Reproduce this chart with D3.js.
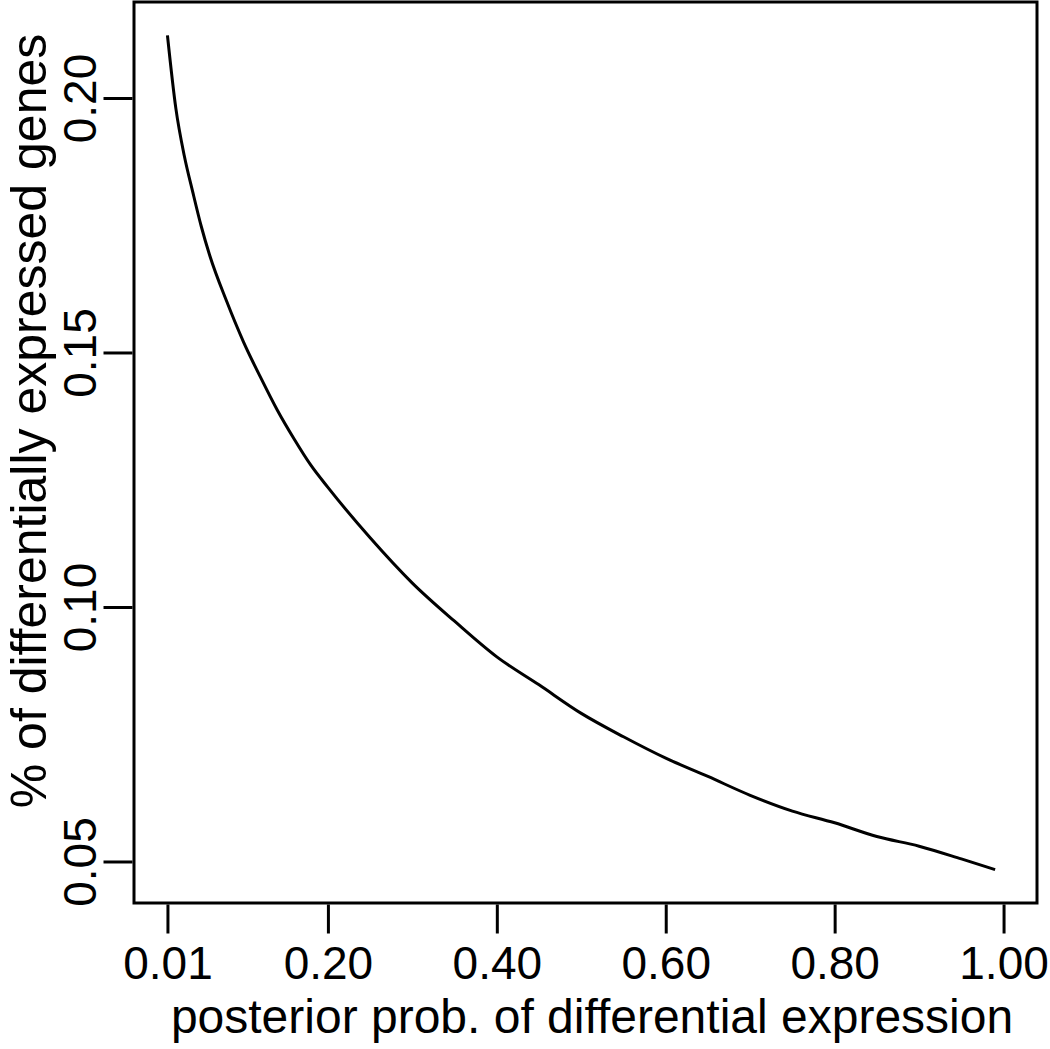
<!DOCTYPE html>
<html>
<head>
<meta charset="utf-8">
<script src="https://cdn.jsdelivr.net/npm/d3@7"></script>
<style>
  body { margin: 0; background: #fff; }
  text { font-family: "Liberation Sans", Arial, Helvetica, sans-serif; fill: #000; }
</style>
</head>
<body>
<svg id="chart" width="1050" height="1049"></svg>
<script>
// posterior probability cutoff
var probs = [0.01, 0.02, 0.03, 0.04, 0.05, 0.06, 0.08, 0.10, 0.12, 0.14, 0.16, 0.18, 0.20,
             0.25, 0.30, 0.35, 0.40, 0.45, 0.50, 0.55, 0.60, 0.65, 0.70, 0.75, 0.80,
             0.85, 0.90, 0.95, 0.99];
// % of differentially expressed genes
var pctDE = [0.2123, 0.1979, 0.1886, 0.1815, 0.1748, 0.1691, 0.1601, 0.1521, 0.1452, 0.1387, 0.1330, 0.1278, 0.1235,
             0.1136, 0.1047, 0.0972, 0.0902, 0.0847, 0.0791, 0.0745, 0.0703, 0.0667, 0.0630, 0.0599, 0.0576,
             0.0549, 0.0530, 0.0505, 0.0484];

var xTicks = [0.01, 0.20, 0.40, 0.60, 0.80, 1.00];
var yTicks = [0.05, 0.10, 0.15, 0.20];

var svg = d3.select("#chart");
var plotLeft = 134, plotRight = 1037, plotTop = 2, plotBottom = 903;

// R style 4% padding on both ends
var xMin = 0.01, xMax = 1.00;
var xPad = (xMax - xMin) * 0.04;
var x = d3.scaleLinear().domain([xMin - xPad, xMax + xPad]).range([plotLeft, plotRight]);

var yMin = d3.min(pctDE), yMax = d3.max(pctDE);
var yPad = (yMax - yMin) * 0.04;
var y = d3.scaleLinear().domain([yMin - yPad, yMax + yPad]).range([plotBottom, plotTop]);

// box
svg.append("rect")
    .attr("x", plotLeft).attr("y", plotTop)
    .attr("width", plotRight - plotLeft).attr("height", plotBottom - plotTop)
    .attr("fill", "none").attr("stroke", "#000").attr("stroke-width", 3);

// x axis
var xAxis = svg.append("g")
    .attr("transform", "translate(0," + (plotBottom + 1.5) + ")")
    .call(d3.axisBottom(x).tickValues(xTicks).tickSize(29).tickSizeOuter(0).tickFormat(d3.format(".2f")));
xAxis.select(".domain").remove();
xAxis.selectAll(".tick line").attr("stroke", "#000").attr("stroke-width", 3);
xAxis.selectAll(".tick text")
    .attr("y", 74).attr("dy", 0)
    .attr("font-size", "46px")
    .attr("font-family", "Liberation Sans, Arial, sans-serif");

// y axis
var yAxis = svg.append("g")
    .attr("transform", "translate(" + (plotLeft - 1.5) + ",0)")
    .call(d3.axisLeft(y).tickValues(yTicks).tickSize(29).tickSizeOuter(0).tickFormat(d3.format(".2f")));
yAxis.select(".domain").remove();
yAxis.selectAll(".tick line").attr("stroke", "#000").attr("stroke-width", 3);
yAxis.selectAll(".tick text")
    .attr("x", 0).attr("dy", 0)
    .attr("transform", "translate(-37,0) rotate(-90)")
    .attr("text-anchor", "middle")
    .attr("font-size", "46px")
    .attr("font-family", "Liberation Sans, Arial, sans-serif");

// curve
var line = d3.line()
    .x(function(d, i) { return x(probs[i]); })
    .y(function(d) { return y(d); })
    .curve(d3.curveMonotoneX);

svg.append("path")
    .datum(pctDE)
    .attr("d", line)
    .attr("fill", "none")
    .attr("stroke", "#000")
    .attr("stroke-width", 3)
    .attr("stroke-linejoin", "round");

// axis titles
svg.append("text")
    .attr("x", 592)
    .attr("y", 1033)
    .attr("text-anchor", "middle")
    .attr("font-size", "48px")
    .text("posterior prob. of differential expression");

svg.append("text")
    .attr("transform", "translate(46,421) rotate(-90)")
    .attr("text-anchor", "middle")
    .attr("font-size", "50px")
    .text("% of differentially expressed genes");
</script>
</body>
</html>
